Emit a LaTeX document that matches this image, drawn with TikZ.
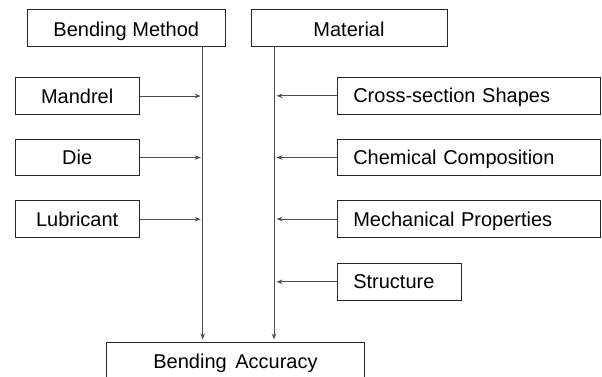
\documentclass[tikz,border=0pt]{standalone}
\usepackage{fontspec}
\setmainfont{Liberation Sans}
\usetikzlibrary{arrows.meta}
\begin{document}
\begin{tikzpicture}[x=1pt,y=-1pt,
  font=\fontsize{20}{24}\selectfont,
  every node/.style={text height=14.3pt, text depth=0pt},
  box/.style={draw=black!85, line width=1pt, inner sep=0pt, align=center, minimum height=36.7pt},
  topbox/.style={box, text height=17.3pt},
  lbox/.style={draw=black!85, line width=1pt, inner ysep=0pt, inner xsep=16pt, align=left, minimum height=36.7pt},
  flow/.style={draw=black!70, line width=1pt, -{Stealth[length=6pt,width=4.5pt]}}]
\useasboundingbox (0,0) rectangle (602,376);

% top-level factor boxes
\node[topbox, minimum width=198pt] (bm) at (126.3,27.65) {Bending Method};
\node[topbox, minimum width=196pt] (mat) at (349,27.65) {Material};

% bending method sub-factors
\node[box, minimum width=124.3pt] (man) at (77.15,96) {Mandrel};
\node[box, minimum width=124.3pt] (die) at (77.15,157.5) {Die};
\node[box, minimum width=124.3pt] (lub) at (77.15,219.2) {Lubricant};

% material sub-factors
\node[lbox, text width=230.7pt] (cs) at (468.65,95.8) {Cross-section Shapes};
\node[lbox, text width=230.7pt] (chem) at (468.65,157.5) {Chemical Composition};
\node[lbox, text width=230.7pt] (mech) at (468.65,219) {Mechanical Properties};
\node[lbox, text width=91.7pt] (str) at (399.15,281.8) {Structure};

% result (lower edge runs past the page)
\node[box, minimum width=257.6pt] (acc) at (235.5,361) {Bending\hspace{3pt} Accuracy};

% main flow lines
\coordinate (lx) at (202.7,0);
\coordinate (rx) at (274,0);
\draw[flow, shorten >=2.7pt] (bm.south -| lx) -- (acc.north -| lx);
\draw[flow, shorten >=2.7pt] (mat.south -| rx) -- (acc.north -| rx);

% left inputs
\foreach \n in {man,die,lub}
  \draw[flow, shorten >=2pt] (\n.east) -- (\n.east -| lx);

% right inputs
\foreach \n in {cs,chem,mech,str}
  \draw[flow, shorten >=2.5pt] (\n.west) -- (\n.west -| rx);
\end{tikzpicture}
\end{document}
